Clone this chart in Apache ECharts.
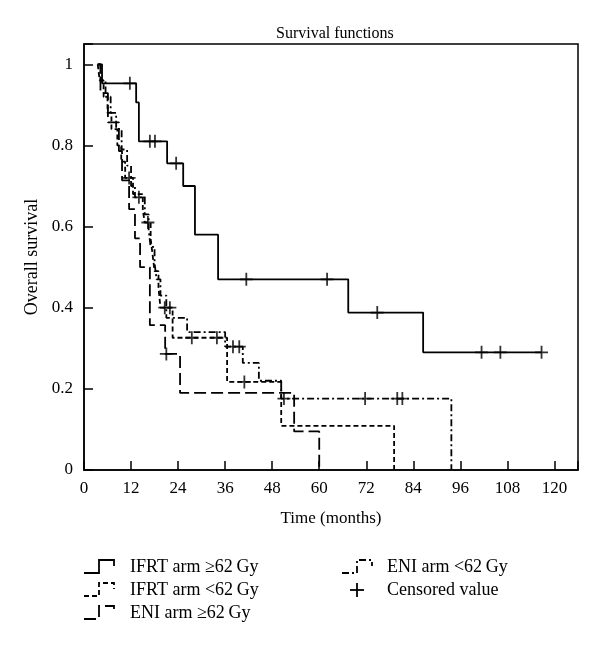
<!DOCTYPE html>
<html>
<head>
<meta charset="utf-8">
<script src="https://cdn.jsdelivr.net/npm/echarts@6/dist/echarts.min.js"></script>
<style>
html,body{margin:0;padding:0;background:#fff;}
#chart{width:600px;height:649px;}
</style>
</head>
<body>
<div id="chart"></div>
<script>
// ---- Data (Kaplan–Meier step points: time in months, survival) ----
const xTicks = [0, 12, 24, 36, 48, 60, 72, 84, 96, 108, 120];
const yTicks = [0, 0.2, 0.4, 0.6, 0.8, 1];

// IFRT arm >=62 Gy
const ifrtHiT = [3.5, 4.6, 13.3, 14.0, 21.2, 25.3, 28.3, 34.2, 67.4, 86.5, 116.7];
const ifrtHiS = [1, 0.953, 0.906, 0.81, 0.756, 0.70, 0.58, 0.47, 0.388, 0.29, 0.29];
const ifrtHiCT = [11.7, 16.8, 18.1, 23.5, 41.4, 62.0, 74.8, 101.4, 106.2, 116.7];
const ifrtHiCS = [0.953, 0.81, 0.81, 0.756, 0.47, 0.47, 0.388, 0.29, 0.29, 0.29];

// IFRT arm <62 Gy
const ifrtLoT = [3.5, 4.0, 5.0, 6.0, 7.0, 8.5, 9.5, 10.5, 12.5, 15.0, 15.5, 17.0, 17.5, 18.0, 19.0, 19.5, 22.6, 36.5, 50.3, 79.1];
const ifrtLoS = [1, 0.96, 0.92, 0.88, 0.84, 0.80, 0.76, 0.72, 0.68, 0.64, 0.61, 0.57, 0.53, 0.49, 0.45, 0.40, 0.326, 0.217, 0.109, 0];
const ifrtLoCT = [11.5, 16.3, 20.6, 21.9, 27.5, 33.9, 40.9];
const ifrtLoCS = [0.72, 0.61, 0.40, 0.40, 0.326, 0.326, 0.217];

// ENI arm >=62 Gy
const eniHiT = [3.5, 4.2, 6.1, 8.9, 9.7, 11.5, 13.0, 14.3, 16.8, 20.7, 24.5, 53.6, 60.0];
const eniHiS = [1, 0.929, 0.857, 0.786, 0.714, 0.643, 0.571, 0.50, 0.357, 0.286, 0.19, 0.095, 0];
const eniHiCT = [21.0];
const eniHiCS = [0.286];

// ENI arm <62 Gy
const eniLoT = [3.5, 4.2, 5.5, 6.8, 8.2, 9.6, 11.0, 12.0, 13.0, 15.5, 16.5, 17.0, 18.0, 18.5, 19.5, 21.0, 26.3, 36.0, 40.5, 44.6, 50.3, 93.7];
const eniLoS = [1, 0.96, 0.92, 0.88, 0.84, 0.79, 0.75, 0.70, 0.672, 0.63, 0.59, 0.55, 0.51, 0.47, 0.43, 0.375, 0.34, 0.304, 0.264, 0.22, 0.176, 0];
const eniLoCT = [14.0, 38.0, 39.6, 51.0, 71.7, 79.9, 81.2];
const eniLoCS = [0.672, 0.304, 0.304, 0.176, 0.176, 0.176, 0.176];

const names = ['IFRT arm \u226562\u2009Gy', 'IFRT arm <62\u2009Gy', 'ENI arm \u226562\u2009Gy', 'ENI arm <62\u2009Gy', 'Censored value'];

// ---- Build ----
const zip = (a, b) => a.map((v, i) => [v, b[i]]);
const FONT = '"Liberation Serif", "DejaVu Serif", serif';
const LW = 1.8;
const dashStyles = ['solid', [5, 3], [12, 5], [7, 3, 2, 3]];
const curves = [
  [ifrtHiT, ifrtHiS], [ifrtLoT, ifrtLoS], [eniHiT, eniHiS], [eniLoT, eniLoS]
];
const censors = [
  [ifrtHiCT, ifrtHiCS], [ifrtLoCT, ifrtLoCS], [eniHiCT, eniHiCS], [eniLoCT, eniLoCS]
];
const plusPath = 'path://M5.6,0h1.8v13h-1.8z M0,5.6h13v1.8h-13z';

const series = [];
curves.forEach((c, i) => {
  series.push({
    name: names[i], type: 'line', step: 'end', showSymbol: false, symbol: 'none',
    data: zip(c[0], c[1]),
    lineStyle: { color: '#000', width: LW, type: dashStyles[i] },
    animation: false, z: 3
  });
});
censors.forEach((c, i) => {
  series.push({
    name: 'Censored value', type: 'scatter', symbol: plusPath, symbolSize: [13, 13],
    data: zip(c[0], c[1]),
    itemStyle: { color: '#000' }, animation: false, z: 4
  });
});

// legend drawn as graphic elements
function legendIcon(x, y, dash) {
  return {
    type: 'polyline',
    shape: { points: [[x, y + 6], [x + 15, y + 6], [x + 15, y - 7], [x + 30, y - 7], [x + 30, y - 1]] },
    style: { stroke: '#000', lineWidth: LW, fill: null, lineDash: dash === 'solid' ? null : dash }
  };
}
function legendText(x, y, t) {
  return { type: 'text', x: x, y: y, style: { text: t, font: '18px ' + FONT, fill: '#000', verticalAlign: 'middle', align: 'left' } };
}
const rowY = [567, 590, 613];
const graphics = [
  legendIcon(84, rowY[0], dashStyles[0]), legendText(130, rowY[0], names[0]),
  legendIcon(84, rowY[1], dashStyles[1]), legendText(130, rowY[1], names[1]),
  legendIcon(84, rowY[2], dashStyles[2]), legendText(130, rowY[2], names[2]),
  legendIcon(342, rowY[0], dashStyles[3]), legendText(387, rowY[0], names[3]),
  { type: 'group', x: 350, y: rowY[1] - 7, children: [
    { type: 'rect', shape: { x: 6.1, y: 0, width: 1.8, height: 14 }, style: { fill: '#000' } },
    { type: 'rect', shape: { x: 0, y: 6.1, width: 14, height: 1.8 }, style: { fill: '#000' } }
  ] },
  legendText(387, rowY[1], names[4])
];

const chart = echarts.init(document.getElementById('chart'), null, { renderer: 'canvas' });
chart.setOption({
  backgroundColor: '#fff',
  animation: false,
  title: {
    text: 'Survival functions', left: 271, top: 21,
    textStyle: { fontFamily: FONT, fontSize: 16, fontWeight: 'normal', color: '#000' }
  },
  grid: { left: 84, right: 22, top: 44, bottom: 179, show: true, borderColor: '#000', borderWidth: 1.5, backgroundColor: 'transparent' },
  xAxis: {
    type: 'value', min: 0, max: 126, interval: 12,
    name: 'Time (months)', nameLocation: 'middle', nameGap: 40,
    nameTextStyle: { fontFamily: FONT, fontSize: 17, color: '#000' },
    axisLine: { lineStyle: { color: '#000', width: 1.5 } },
    axisTick: { inside: true, length: 9, lineStyle: { color: '#000', width: 1.5 } },
    axisLabel: { margin: 10, fontFamily: FONT, fontSize: 17, color: '#000',
      formatter: v => (xTicks.indexOf(v) >= 0 ? String(v) : '') },
    splitLine: { show: false }
  },
  yAxis: {
    type: 'value', min: 0, max: 1.05, interval: 0.2,
    name: 'Overall survival', nameLocation: 'middle', nameGap: 40, nameRotate: 90,
    nameTextStyle: { fontFamily: FONT, fontSize: 18, color: '#000' },
    axisLine: { lineStyle: { color: '#000', width: 1.5 } },
    axisTick: { inside: true, length: 9, lineStyle: { color: '#000', width: 1.5 } },
    axisLabel: { margin: 11, fontFamily: FONT, fontSize: 17, color: '#000',
      formatter: v => { const m = yTicks.find(t => Math.abs(t - v) < 1e-6); return m === undefined ? '' : String(m); } },
    splitLine: { show: false }
  },
  series: series,
  graphic: graphics
});
</script>
</body>
</html>
